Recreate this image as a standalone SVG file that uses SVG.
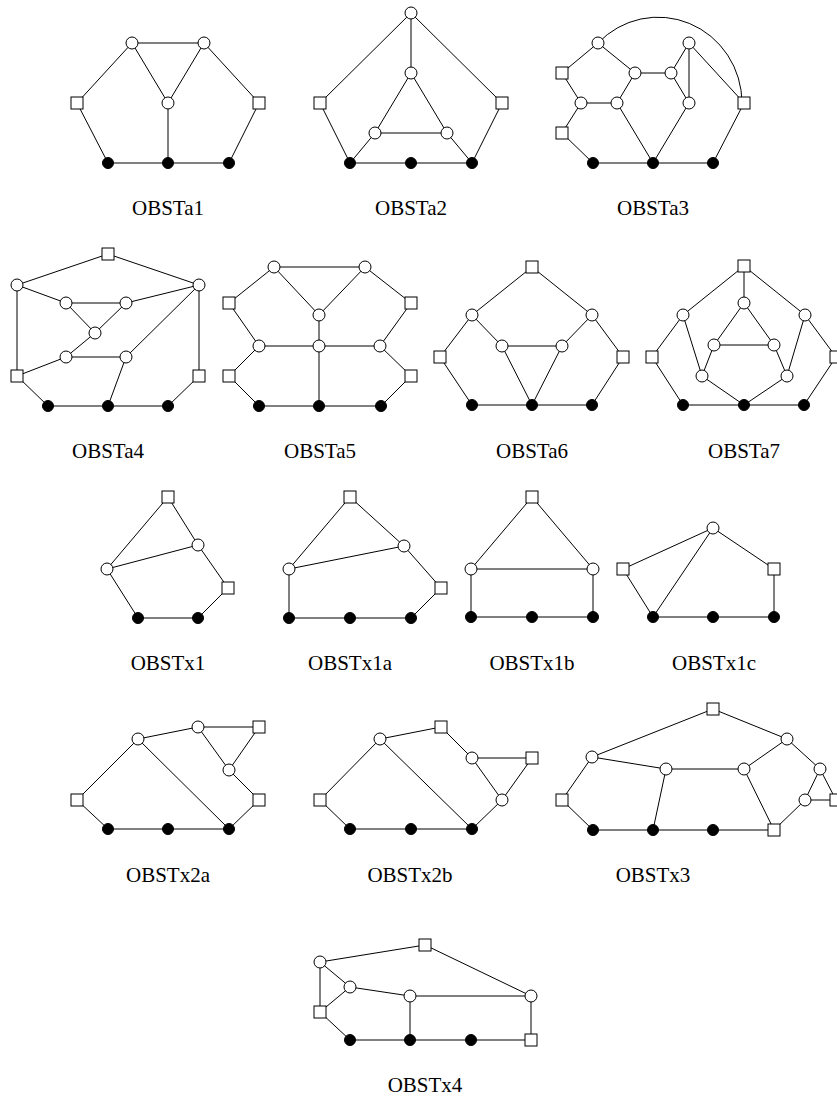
<svg xmlns="http://www.w3.org/2000/svg" xmlns:xlink="http://www.w3.org/1999/xlink" width="837" height="1101" viewBox="0 0 837 1101">
<style>
line,path{stroke:#000;stroke-width:1;fill:none}
.o{fill:#fff;stroke:#000;stroke-width:1}
.s{fill:#fff;stroke:#000;stroke-width:1}
.d{fill:#000;stroke:#000;stroke-width:1}
text{font-family:"Liberation Serif","DejaVu Serif",serif;font-size:21px;text-anchor:middle;fill:#000}
</style>
<defs>
<circle id="o" class="o" cx="0" cy="0" r="6"/>
<rect id="s" class="s" x="-6" y="-6" width="12" height="12"/>
<circle id="d" class="d" cx="0" cy="0" r="5.5"/>
</defs>
<rect width="837" height="1101" fill="#fff"/>
<g id="connectors">
<g id="e-a1">
<line x1="77" y1="103" x2="132" y2="43"/><line x1="132" y1="43" x2="204" y2="43"/><line x1="204" y1="43" x2="259" y2="103"/>
<line x1="132" y1="43" x2="168" y2="103"/><line x1="204" y1="43" x2="168" y2="103"/><line x1="168" y1="103" x2="168" y2="163"/>
<line x1="77" y1="103" x2="108" y2="163"/><line x1="259" y1="103" x2="229" y2="163"/><line x1="108" y1="163" x2="229" y2="163"/>
</g>
<g id="e-a2">
<line x1="411" y1="13" x2="320" y2="103"/><line x1="411" y1="13" x2="502" y2="103"/><line x1="411" y1="13" x2="411" y2="73"/>
<line x1="411" y1="73" x2="375" y2="133"/><line x1="411" y1="73" x2="447" y2="133"/><line x1="375" y1="133" x2="447" y2="133"/>
<line x1="375" y1="133" x2="350" y2="163"/><line x1="447" y1="133" x2="472" y2="163"/>
<line x1="320" y1="103" x2="350" y2="163"/><line x1="502" y1="103" x2="472" y2="163"/><line x1="350" y1="163" x2="472" y2="163"/>
</g>
<g id="e-a3">
<line x1="598" y1="43" x2="562" y2="73"/><line x1="598" y1="43" x2="635" y2="73"/><line x1="562" y1="73" x2="581" y2="103"/>
<line x1="581" y1="103" x2="617" y2="103"/><line x1="617" y1="103" x2="635" y2="73"/><line x1="635" y1="73" x2="671" y2="73"/>
<line x1="671" y1="73" x2="689" y2="43"/><line x1="671" y1="73" x2="689" y2="103"/><line x1="689" y1="43" x2="689" y2="103"/>
<line x1="689" y1="43" x2="744" y2="103"/><line x1="581" y1="103" x2="562" y2="133"/><line x1="562" y1="133" x2="593" y2="163"/>
<line x1="617" y1="103" x2="653" y2="163"/><line x1="689" y1="103" x2="653" y2="163"/><line x1="744" y1="103" x2="713" y2="163"/>
<line x1="593" y1="163" x2="713" y2="163"/>
<path d="M598,43 A84,86 0 0 1 742,103"/>
</g>
<g id="e-a4">
<line x1="108" y1="254" x2="17" y2="285"/><line x1="108" y1="254" x2="199" y2="285"/><line x1="17" y1="285" x2="66" y2="303"/>
<line x1="17" y1="285" x2="17" y2="376"/><line x1="66" y1="303" x2="126" y2="303"/><line x1="66" y1="303" x2="95" y2="333"/>
<line x1="126" y1="303" x2="95" y2="333"/><line x1="126" y1="303" x2="199" y2="285"/><line x1="95" y1="333" x2="66" y2="357"/>
<line x1="66" y1="357" x2="126" y2="357"/><line x1="66" y1="357" x2="17" y2="376"/><line x1="126" y1="357" x2="199" y2="285"/>
<line x1="126" y1="357" x2="108" y2="406"/><line x1="199" y1="285" x2="199" y2="376"/><line x1="17" y1="376" x2="48" y2="406"/>
<line x1="199" y1="376" x2="168" y2="406"/><line x1="48" y1="406" x2="168" y2="406"/>
</g>
<g id="e-a5">
<line x1="274" y1="267" x2="365" y2="267"/><line x1="274" y1="267" x2="229" y2="303"/><line x1="365" y1="267" x2="411" y2="303"/>
<line x1="274" y1="267" x2="319" y2="315"/><line x1="365" y1="267" x2="319" y2="315"/><line x1="319" y1="315" x2="319" y2="346"/>
<line x1="229" y1="303" x2="259" y2="346"/><line x1="411" y1="303" x2="380" y2="346"/><line x1="259" y1="346" x2="380" y2="346"/>
<line x1="259" y1="346" x2="229" y2="376"/><line x1="380" y1="346" x2="411" y2="376"/><line x1="319" y1="346" x2="319" y2="406"/>
<line x1="229" y1="376" x2="259" y2="406"/><line x1="411" y1="376" x2="381" y2="406"/><line x1="259" y1="406" x2="381" y2="406"/>
</g>
<g id="e-a6">
<line x1="532" y1="267" x2="472" y2="315"/><line x1="532" y1="267" x2="592" y2="315"/><line x1="472" y1="315" x2="440" y2="357"/>
<line x1="472" y1="315" x2="502" y2="346"/><line x1="592" y1="315" x2="562" y2="346"/><line x1="592" y1="315" x2="623" y2="357"/>
<line x1="502" y1="346" x2="562" y2="346"/><line x1="502" y1="346" x2="532" y2="405"/><line x1="562" y1="346" x2="532" y2="405"/>
<line x1="440" y1="357" x2="472" y2="405"/><line x1="623" y1="357" x2="592" y2="405"/><line x1="472" y1="405" x2="592" y2="405"/>
</g>
<g id="e-a7">
<line x1="744" y1="266" x2="683" y2="315"/><line x1="744" y1="266" x2="805" y2="315"/><line x1="744" y1="266" x2="744" y2="303"/>
<line x1="744" y1="303" x2="714" y2="345"/><line x1="744" y1="303" x2="774" y2="345"/><line x1="714" y1="345" x2="774" y2="345"/>
<line x1="714" y1="345" x2="702" y2="376"/><line x1="774" y1="345" x2="787" y2="376"/><line x1="683" y1="315" x2="702" y2="376"/>
<line x1="805" y1="315" x2="787" y2="376"/><line x1="683" y1="315" x2="652" y2="357"/><line x1="805" y1="315" x2="836" y2="357"/>
<line x1="702" y1="376" x2="744" y2="405"/><line x1="787" y1="376" x2="744" y2="405"/><line x1="652" y1="357" x2="683" y2="405"/>
<line x1="836" y1="357" x2="804" y2="405"/><line x1="683" y1="405" x2="804" y2="405"/>
</g>
<g id="e-x1">
<line x1="168" y1="497" x2="107" y2="569"/><line x1="168" y1="497" x2="198" y2="545"/><line x1="198" y1="545" x2="107" y2="569"/>
<line x1="198" y1="545" x2="228" y2="588"/><line x1="107" y1="569" x2="138" y2="618"/><line x1="228" y1="588" x2="198" y2="618"/>
<line x1="138" y1="618" x2="198" y2="618"/>
</g>
<g id="e-x1a">
<line x1="350" y1="497" x2="289" y2="569"/><line x1="350" y1="497" x2="404" y2="546"/><line x1="404" y1="546" x2="289" y2="569"/>
<line x1="289" y1="569" x2="289" y2="618"/><line x1="404" y1="546" x2="441" y2="588"/><line x1="441" y1="588" x2="411" y2="618"/>
<line x1="289" y1="618" x2="411" y2="618"/>
</g>
<g id="e-x1b">
<line x1="532" y1="497" x2="471" y2="569"/><line x1="532" y1="497" x2="593" y2="569"/><line x1="471" y1="569" x2="593" y2="569"/>
<line x1="471" y1="569" x2="471" y2="617"/><line x1="593" y1="569" x2="593" y2="617"/><line x1="471" y1="617" x2="593" y2="617"/>
</g>
<g id="e-x1c">
<line x1="713" y1="528" x2="623" y2="569"/><line x1="713" y1="528" x2="653" y2="617"/><line x1="713" y1="528" x2="774" y2="569"/>
<line x1="623" y1="569" x2="653" y2="617"/><line x1="774" y1="569" x2="774" y2="617"/><line x1="653" y1="617" x2="774" y2="617"/>
</g>
<g id="e-x2a">
<line x1="138" y1="739" x2="198" y2="727"/><line x1="198" y1="727" x2="259" y2="727"/><line x1="198" y1="727" x2="229" y2="770"/>
<line x1="259" y1="727" x2="229" y2="770"/><line x1="229" y1="770" x2="259" y2="800"/><line x1="138" y1="739" x2="77" y2="800"/>
<line x1="138" y1="739" x2="229" y2="829"/><line x1="77" y1="800" x2="108" y2="829"/><line x1="259" y1="800" x2="229" y2="829"/>
<line x1="108" y1="829" x2="229" y2="829"/>
</g>
<g id="e-x2b">
<line x1="380" y1="739" x2="441" y2="727"/><line x1="441" y1="727" x2="472" y2="758"/><line x1="472" y1="758" x2="532" y2="758"/>
<line x1="472" y1="758" x2="502" y2="800"/><line x1="532" y1="758" x2="502" y2="800"/><line x1="502" y1="800" x2="472" y2="829"/>
<line x1="380" y1="739" x2="320" y2="800"/><line x1="380" y1="739" x2="472" y2="829"/><line x1="320" y1="800" x2="350" y2="829"/>
<line x1="350" y1="829" x2="472" y2="829"/>
</g>
<g id="e-x3">
<line x1="713" y1="709" x2="592" y2="757"/><line x1="713" y1="709" x2="787" y2="739"/><line x1="592" y1="757" x2="666" y2="769"/>
<line x1="592" y1="757" x2="562" y2="800"/><line x1="666" y1="769" x2="744" y2="769"/><line x1="666" y1="769" x2="653" y2="830"/>
<line x1="744" y1="769" x2="787" y2="739"/><line x1="744" y1="769" x2="774" y2="830"/><line x1="787" y1="739" x2="820" y2="769"/>
<line x1="820" y1="769" x2="805" y2="800"/><line x1="820" y1="769" x2="836" y2="800"/><line x1="805" y1="800" x2="836" y2="800"/>
<line x1="805" y1="800" x2="774" y2="830"/><line x1="562" y1="800" x2="593" y2="830"/><line x1="593" y1="830" x2="774" y2="830"/>
</g>
<g id="e-x4">
<line x1="320" y1="962" x2="425" y2="945"/><line x1="425" y1="945" x2="531" y2="996"/><line x1="320" y1="962" x2="350" y2="987"/>
<line x1="320" y1="962" x2="320" y2="1012"/><line x1="350" y1="987" x2="320" y2="1012"/><line x1="350" y1="987" x2="410" y2="996"/>
<line x1="410" y1="996" x2="531" y2="996"/><line x1="410" y1="996" x2="410" y2="1040"/><line x1="531" y1="996" x2="531" y2="1040"/>
<line x1="320" y1="1012" x2="350" y2="1040"/><line x1="350" y1="1040" x2="531" y2="1040"/>
</g>
</g>
<g id="a1">
<g id="a1-1"><use xlink:href="#o" x="132" y="43"/></g><g id="a1-2"><use xlink:href="#o" x="204" y="43"/></g>
<g id="a1-3"><use xlink:href="#o" x="168" y="103"/></g><g id="a1-4"><use xlink:href="#s" x="77" y="103"/></g>
<g id="a1-5"><use xlink:href="#s" x="259" y="103"/></g><g id="a1-6"><use xlink:href="#d" x="108" y="163"/></g>
<g id="a1-7"><use xlink:href="#d" x="168" y="163"/></g><g id="a1-8"><use xlink:href="#d" x="229" y="163"/></g>
<text x="168" y="215">OBSTa1</text>
</g>
<g id="a2">
<g id="a2-1"><use xlink:href="#o" x="411" y="13"/></g><g id="a2-2"><use xlink:href="#o" x="411" y="73"/></g>
<g id="a2-3"><use xlink:href="#s" x="320" y="103"/></g><g id="a2-4"><use xlink:href="#s" x="502" y="103"/></g>
<g id="a2-5"><use xlink:href="#o" x="375" y="133"/></g><g id="a2-6"><use xlink:href="#o" x="447" y="133"/></g>
<g id="a2-7"><use xlink:href="#d" x="350" y="163"/></g><g id="a2-8"><use xlink:href="#d" x="411" y="163"/></g>
<g id="a2-9"><use xlink:href="#d" x="472" y="163"/></g>
<text x="411" y="215">OBSTa2</text>
</g>
<g id="a3">
<g id="a3-1"><use xlink:href="#o" x="598" y="43"/></g><g id="a3-2"><use xlink:href="#s" x="562" y="73"/></g>
<g id="a3-3"><use xlink:href="#o" x="635" y="73"/></g><g id="a3-4"><use xlink:href="#o" x="671" y="73"/></g>
<g id="a3-5"><use xlink:href="#o" x="689" y="43"/></g><g id="a3-6"><use xlink:href="#o" x="581" y="103"/></g>
<g id="a3-7"><use xlink:href="#o" x="617" y="103"/></g><g id="a3-8"><use xlink:href="#o" x="689" y="103"/></g>
<g id="a3-9"><use xlink:href="#s" x="744" y="103"/></g><g id="a3-10"><use xlink:href="#s" x="562" y="133"/></g>
<g id="a3-11"><use xlink:href="#d" x="593" y="163"/></g><g id="a3-12"><use xlink:href="#d" x="653" y="163"/></g>
<g id="a3-13"><use xlink:href="#d" x="713" y="163"/></g>
<text x="653" y="215">OBSTa3</text>
</g>
<g id="a4">
<g id="a4-1"><use xlink:href="#s" x="108" y="254"/></g><g id="a4-2"><use xlink:href="#o" x="17" y="285"/></g>
<g id="a4-3"><use xlink:href="#o" x="199" y="285"/></g><g id="a4-4"><use xlink:href="#o" x="66" y="303"/></g>
<g id="a4-5"><use xlink:href="#o" x="126" y="303"/></g><g id="a4-6"><use xlink:href="#o" x="95" y="333"/></g>
<g id="a4-7"><use xlink:href="#o" x="66" y="357"/></g><g id="a4-8"><use xlink:href="#o" x="126" y="357"/></g>
<g id="a4-9"><use xlink:href="#s" x="17" y="376"/></g><g id="a4-10"><use xlink:href="#s" x="199" y="376"/></g>
<g id="a4-11"><use xlink:href="#d" x="48" y="406"/></g><g id="a4-12"><use xlink:href="#d" x="108" y="406"/></g>
<g id="a4-13"><use xlink:href="#d" x="168" y="406"/></g>
<text x="108" y="458">OBSTa4</text>
</g>
<g id="a5">
<g id="a5-1"><use xlink:href="#o" x="274" y="267"/></g><g id="a5-2"><use xlink:href="#o" x="365" y="267"/></g>
<g id="a5-3"><use xlink:href="#s" x="229" y="303"/></g><g id="a5-4"><use xlink:href="#s" x="411" y="303"/></g>
<g id="a5-5"><use xlink:href="#o" x="319" y="315"/></g><g id="a5-6"><use xlink:href="#o" x="259" y="346"/></g>
<g id="a5-7"><use xlink:href="#o" x="319" y="346"/></g><g id="a5-8"><use xlink:href="#o" x="380" y="346"/></g>
<g id="a5-9"><use xlink:href="#s" x="229" y="376"/></g><g id="a5-10"><use xlink:href="#s" x="411" y="376"/></g>
<g id="a5-11"><use xlink:href="#d" x="259" y="406"/></g><g id="a5-12"><use xlink:href="#d" x="319" y="406"/></g>
<g id="a5-13"><use xlink:href="#d" x="381" y="406"/></g>
<text x="320" y="458">OBSTa5</text>
</g>
<g id="a6">
<g id="a6-1"><use xlink:href="#s" x="532" y="267"/></g><g id="a6-2"><use xlink:href="#o" x="472" y="315"/></g>
<g id="a6-3"><use xlink:href="#o" x="592" y="315"/></g><g id="a6-4"><use xlink:href="#o" x="502" y="346"/></g>
<g id="a6-5"><use xlink:href="#o" x="562" y="346"/></g><g id="a6-6"><use xlink:href="#s" x="440" y="357"/></g>
<g id="a6-7"><use xlink:href="#s" x="623" y="357"/></g><g id="a6-8"><use xlink:href="#d" x="472" y="405"/></g>
<g id="a6-9"><use xlink:href="#d" x="532" y="405"/></g><g id="a6-10"><use xlink:href="#d" x="592" y="405"/></g>
<text x="532" y="458">OBSTa6</text>
</g>
<g id="a7">
<g id="a7-1"><use xlink:href="#s" x="744" y="266"/></g><g id="a7-2"><use xlink:href="#o" x="744" y="303"/></g>
<g id="a7-3"><use xlink:href="#o" x="683" y="315"/></g><g id="a7-4"><use xlink:href="#o" x="805" y="315"/></g>
<g id="a7-5"><use xlink:href="#o" x="714" y="345"/></g><g id="a7-6"><use xlink:href="#o" x="774" y="345"/></g>
<g id="a7-7"><use xlink:href="#s" x="652" y="357"/></g><g id="a7-8"><use xlink:href="#s" x="836" y="357"/></g>
<g id="a7-9"><use xlink:href="#o" x="702" y="376"/></g><g id="a7-10"><use xlink:href="#o" x="787" y="376"/></g>
<g id="a7-11"><use xlink:href="#d" x="683" y="405"/></g><g id="a7-12"><use xlink:href="#d" x="744" y="405"/></g>
<g id="a7-13"><use xlink:href="#d" x="804" y="405"/></g>
<text x="744" y="458">OBSTa7</text>
</g>
<g id="x1">
<g id="x1-1"><use xlink:href="#s" x="168" y="497"/></g><g id="x1-2"><use xlink:href="#o" x="198" y="545"/></g>
<g id="x1-3"><use xlink:href="#o" x="107" y="569"/></g><g id="x1-4"><use xlink:href="#s" x="228" y="588"/></g>
<g id="x1-5"><use xlink:href="#d" x="138" y="618"/></g><g id="x1-6"><use xlink:href="#d" x="198" y="618"/></g>
<text x="168" y="670">OBSTx1</text>
</g>
<g id="x1a">
<g id="x1a-1"><use xlink:href="#s" x="350" y="497"/></g><g id="x1a-2"><use xlink:href="#o" x="404" y="546"/></g>
<g id="x1a-3"><use xlink:href="#o" x="289" y="569"/></g><g id="x1a-4"><use xlink:href="#s" x="441" y="588"/></g>
<g id="x1a-5"><use xlink:href="#d" x="289" y="618"/></g><g id="x1a-6"><use xlink:href="#d" x="350" y="618"/></g>
<g id="x1a-7"><use xlink:href="#d" x="411" y="618"/></g>
<text x="350" y="670">OBSTx1a</text>
</g>
<g id="x1b">
<g id="x1b-1"><use xlink:href="#s" x="532" y="497"/></g><g id="x1b-2"><use xlink:href="#o" x="471" y="569"/></g>
<g id="x1b-3"><use xlink:href="#o" x="593" y="569"/></g><g id="x1b-4"><use xlink:href="#d" x="471" y="617"/></g>
<g id="x1b-5"><use xlink:href="#d" x="532" y="617"/></g><g id="x1b-6"><use xlink:href="#d" x="593" y="617"/></g>
<text x="532" y="670">OBSTx1b</text>
</g>
<g id="x1c">
<g id="x1c-1"><use xlink:href="#o" x="713" y="528"/></g><g id="x1c-2"><use xlink:href="#s" x="623" y="569"/></g>
<g id="x1c-3"><use xlink:href="#s" x="774" y="569"/></g><g id="x1c-4"><use xlink:href="#d" x="653" y="617"/></g>
<g id="x1c-5"><use xlink:href="#d" x="713" y="617"/></g><g id="x1c-6"><use xlink:href="#d" x="774" y="617"/></g>
<text x="714" y="670">OBSTx1c</text>
</g>
<g id="x2a">
<g id="x2a-1"><use xlink:href="#o" x="138" y="739"/></g><g id="x2a-2"><use xlink:href="#o" x="198" y="727"/></g>
<g id="x2a-3"><use xlink:href="#s" x="259" y="727"/></g><g id="x2a-4"><use xlink:href="#o" x="229" y="770"/></g>
<g id="x2a-5"><use xlink:href="#s" x="77" y="800"/></g><g id="x2a-6"><use xlink:href="#s" x="259" y="800"/></g>
<g id="x2a-7"><use xlink:href="#d" x="108" y="829"/></g><g id="x2a-8"><use xlink:href="#d" x="168" y="829"/></g>
<g id="x2a-9"><use xlink:href="#d" x="229" y="829"/></g>
<text x="168" y="882">OBSTx2a</text>
</g>
<g id="x2b">
<g id="x2b-1"><use xlink:href="#o" x="380" y="739"/></g><g id="x2b-2"><use xlink:href="#s" x="441" y="727"/></g>
<g id="x2b-3"><use xlink:href="#o" x="472" y="758"/></g><g id="x2b-4"><use xlink:href="#s" x="532" y="758"/></g>
<g id="x2b-5"><use xlink:href="#o" x="502" y="800"/></g><g id="x2b-6"><use xlink:href="#s" x="320" y="800"/></g>
<g id="x2b-7"><use xlink:href="#d" x="350" y="829"/></g><g id="x2b-8"><use xlink:href="#d" x="411" y="829"/></g>
<g id="x2b-9"><use xlink:href="#d" x="472" y="829"/></g>
<text x="410" y="882">OBSTx2b</text>
</g>
<g id="x3">
<g id="x3-1"><use xlink:href="#s" x="713" y="709"/></g><g id="x3-2"><use xlink:href="#o" x="787" y="739"/></g>
<g id="x3-3"><use xlink:href="#o" x="592" y="757"/></g><g id="x3-4"><use xlink:href="#o" x="666" y="769"/></g>
<g id="x3-5"><use xlink:href="#o" x="744" y="769"/></g><g id="x3-6"><use xlink:href="#o" x="820" y="769"/></g>
<g id="x3-7"><use xlink:href="#s" x="562" y="800"/></g><g id="x3-8"><use xlink:href="#o" x="805" y="800"/></g>
<g id="x3-9"><use xlink:href="#s" x="836" y="800"/></g><g id="x3-10"><use xlink:href="#d" x="593" y="830"/></g>
<g id="x3-11"><use xlink:href="#d" x="653" y="830"/></g><g id="x3-12"><use xlink:href="#d" x="713" y="830"/></g>
<g id="x3-13"><use xlink:href="#s" x="774" y="830"/></g>
<text x="653" y="882">OBSTx3</text>
</g>
<g id="x4">
<g id="x4-1"><use xlink:href="#s" x="425" y="945"/></g><g id="x4-2"><use xlink:href="#o" x="320" y="962"/></g>
<g id="x4-3"><use xlink:href="#o" x="350" y="987"/></g><g id="x4-4"><use xlink:href="#o" x="410" y="996"/></g>
<g id="x4-5"><use xlink:href="#o" x="531" y="996"/></g><g id="x4-6"><use xlink:href="#s" x="320" y="1012"/></g>
<g id="x4-7"><use xlink:href="#d" x="350" y="1040"/></g><g id="x4-8"><use xlink:href="#d" x="410" y="1040"/></g>
<g id="x4-9"><use xlink:href="#d" x="471" y="1040"/></g><g id="x4-10"><use xlink:href="#s" x="531" y="1040"/></g>
<text x="425" y="1092">OBSTx4</text>
</g>
</svg>
